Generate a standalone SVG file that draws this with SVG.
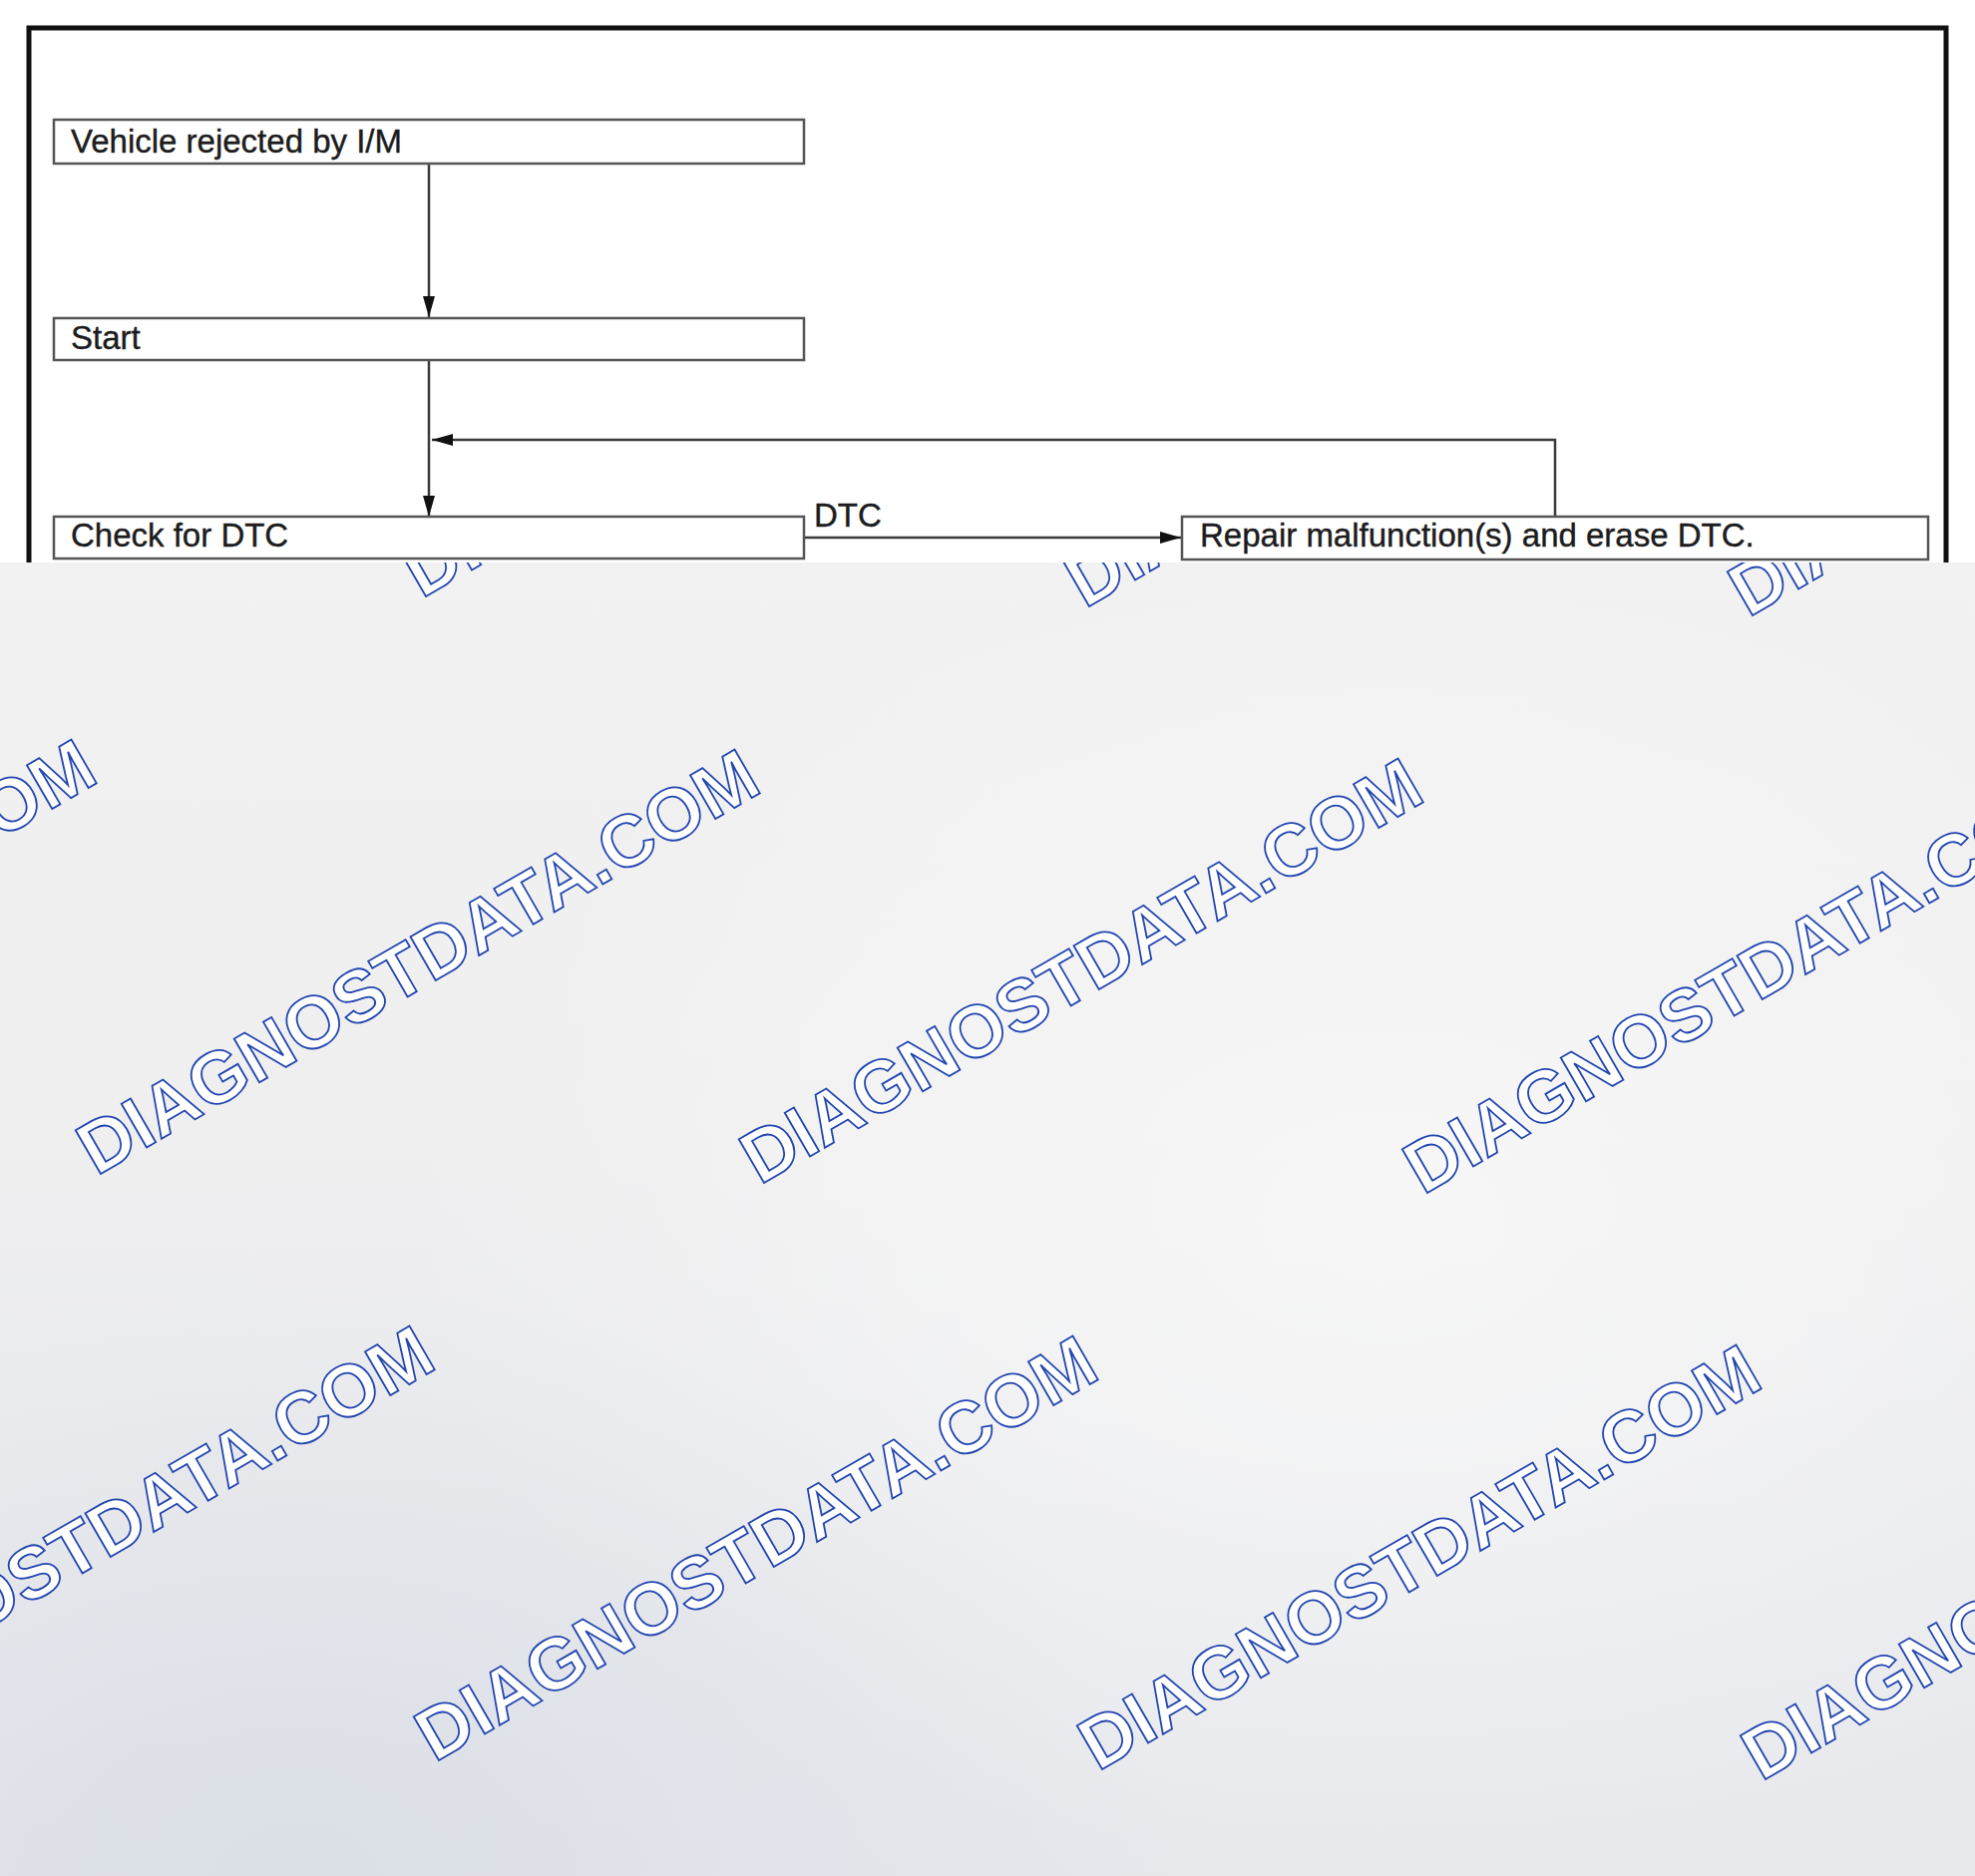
<svg xmlns="http://www.w3.org/2000/svg" width="1980" height="1881" viewBox="0 0 1980 1881">
  <defs>
    <style>
      .box { fill: #ffffff; stroke: #555555; stroke-width: 2.5; }
      .lbl { font-family: "Liberation Sans", Arial, sans-serif; font-size: 33px; fill: #1c1c1c; stroke: #1c1c1c; stroke-width: 0.4; }
      .conn { fill: none; stroke: #3a3a3a; stroke-width: 2.5; }
      .frame { stroke: #111111; stroke-width: 5; fill: none; }
      .wm { font-family: "Liberation Sans", Arial, sans-serif; font-weight: bold; font-size: 73.5px; fill: #ffffff; stroke: #2346b0; stroke-width: 1.8; }
    </style>
    <marker id="arrow" viewBox="0 0 21 12" refX="21" refY="6" markerWidth="21" markerHeight="12" markerUnits="userSpaceOnUse" orient="auto">
      <path d="M0,0 L21,6 L0,12 z" fill="#111111"/>
    </marker>
    <linearGradient id="bg" x1="0" y1="0" x2="0" y2="1">
      <stop offset="0" stop-color="#f4f4f4"/>
      <stop offset="0.6" stop-color="#efeff0"/>
      <stop offset="1" stop-color="#e6e8ec"/>
    </linearGradient>
    <radialGradient id="light1" cx="0.7" cy="0.5" r="0.5">
      <stop offset="0" stop-color="#f9f9f9" stop-opacity="0.8"/>
      <stop offset="1" stop-color="#f9f9f9" stop-opacity="0"/>
    </radialGradient>
    <radialGradient id="dark1" cx="0.15" cy="1" r="0.45">
      <stop offset="0" stop-color="#dadee6" stop-opacity="0.9"/>
      <stop offset="1" stop-color="#dadee6" stop-opacity="0"/>
    </radialGradient>
  </defs>

  <g id="background">
    <rect x="0" y="0" width="1980" height="1881" fill="url(#bg)"/>
    <rect x="0" y="564" width="1980" height="1317" fill="url(#light1)"/>
    <rect x="0" y="564" width="1980" height="1317" fill="url(#dark1)"/>
  </g>

  <g id="watermarks">
    <text class="wm" transform="translate(-238,589) rotate(-30)" x="-5" y="0">DIAGNOSTDATA.COM</text>
    <text class="wm" transform="translate(427,598) rotate(-30)" x="-5" y="0">DIAGNOSTDATA.COM</text>
    <text class="wm" transform="translate(1092,608) rotate(-30)" x="-5" y="0">DIAGNOSTDATA.COM</text>
    <text class="wm" transform="translate(1757,617) rotate(-30)" x="-5" y="0">DIAGNOSTDATA.COM</text>
    <text class="wm" transform="translate(-564,1167) rotate(-30)" x="-5" y="0">DIAGNOSTDATA.COM</text>
    <text class="wm" transform="translate(101,1177) rotate(-30)" x="-5" y="0">DIAGNOSTDATA.COM</text>
    <text class="wm" transform="translate(766,1186) rotate(-30)" x="-5" y="0">DIAGNOSTDATA.COM</text>
    <text class="wm" transform="translate(1431,1196) rotate(-30)" x="-5" y="0">DIAGNOSTDATA.COM</text>
    <text class="wm" transform="translate(-225,1755) rotate(-30)" x="-5" y="0">DIAGNOSTDATA.COM</text>
    <text class="wm" transform="translate(440,1765) rotate(-30)" x="-5" y="0">DIAGNOSTDATA.COM</text>
    <text class="wm" transform="translate(1105,1774) rotate(-30)" x="-5" y="0">DIAGNOSTDATA.COM</text>
    <text class="wm" transform="translate(1770,1784) rotate(-30)" x="-5" y="0">DIAGNOSTDATA.COM</text>
  </g>

  <g id="diagram">
    <rect x="0" y="0" width="1980" height="564" fill="#ffffff"/>
    <path class="frame" d="M29,564 L29,28 L1951,28 L1951,564"/>

    <g id="connectors">
      <line class="conn" x1="430" y1="164" x2="430" y2="318" marker-end="url(#arrow)"/>
      <line class="conn" x1="430" y1="361" x2="430" y2="518" marker-end="url(#arrow)"/>
      <polyline class="conn" points="1559,518 1559,441 433,441" marker-end="url(#arrow)"/>
      <line class="conn" x1="806" y1="539" x2="1184" y2="539" marker-end="url(#arrow)"/>
      <text class="lbl" x="816" y="528">DTC</text>
    </g>

    <g id="node-vehicle-rejected">
      <rect class="box" x="54" y="120" width="752" height="44"/>
      <text class="lbl" x="71" y="153">Vehicle rejected by I/M</text>
    </g>
    <g id="node-start">
      <rect class="box" x="54" y="319" width="752" height="42"/>
      <text class="lbl" x="71" y="350">Start</text>
    </g>
    <g id="node-check-dtc">
      <rect class="box" x="54" y="518" width="752" height="42"/>
      <text class="lbl" x="71" y="548">Check for DTC</text>
    </g>
    <g id="node-repair">
      <rect class="box" x="1185" y="518" width="748" height="43"/>
      <text class="lbl" x="1203" y="548">Repair malfunction(s) and erase DTC.</text>
    </g>
  </g>
</svg>
